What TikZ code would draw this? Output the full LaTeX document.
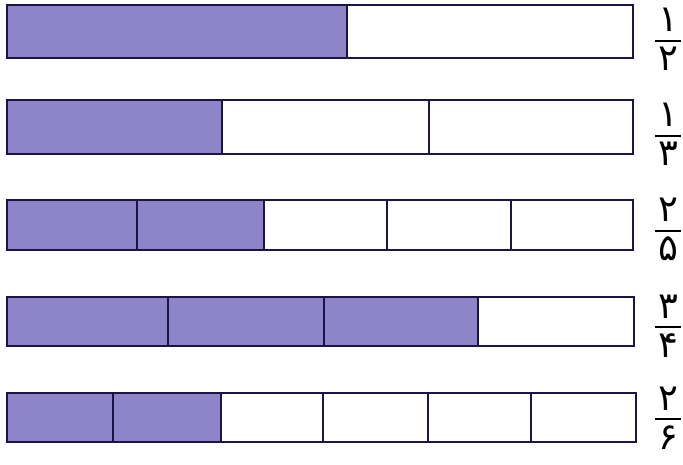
\documentclass[tikz,border=0pt]{standalone}
\usepackage{fontspec}
\newfontfamily\fa[Script=Arabic]{DejaVu Sans}
\TeXXeTstate=1
\definecolor{shadecol}{RGB}{142,133,200}
\definecolor{edgecol}{RGB}{28,20,72}
\begin{document}
\begin{tikzpicture}[x=1pt,y=-1pt,
  celledge/.style={draw=edgecol, line width=2.6pt, line join=miter},
  num/.style={font=\fa\fontsize{37}{37}\selectfont, inner sep=0pt, text=black},
  fracbar/.style={line width=2.6pt, draw=black}]
\useasboundingbox[fill=white] (0,0) rectangle (683,465);
\foreach \i/\ya/\yb/\xr/\divs/\sh/\lin/\nu/\de in {
  1/5/58/633/{347}/347/41/۱/۲,
  2/100/154/633/{222,429}/222/136/۱/۳,
  3/200/250/633/{137,264,387,511}/264/231/۲/۵,
  4/297/346/634/{168,324,478}/478/327/۳/۴,
  5/393/442/636/{113,221,323,428,531}/221/419/۲/۶}{
  \coordinate (b\i tl) at (7,\ya);
  \coordinate (b\i br) at (\xr,\yb);
  \coordinate (b\i sh) at (\sh,\yb);
  \fill[shadecol] (b\i tl) rectangle (b\i sh);
  \foreach \d in \divs {
    \draw[celledge] (\d,\ya) -- (\d,\yb);
  }
  \draw[celledge] (b\i tl) rectangle (b\i br);
  \coordinate (f\i l) at (655,\lin);
  \coordinate (f\i r) at (681,\lin);
  \draw[fracbar] (f\i l) -- (f\i r);
  \node[num, anchor=base] (n\i) at (668,\lin-9) {\nu};
  \node[num, anchor=base] (d\i) at (668,\lin+30) {\de};
}
\end{tikzpicture}
\end{document}
